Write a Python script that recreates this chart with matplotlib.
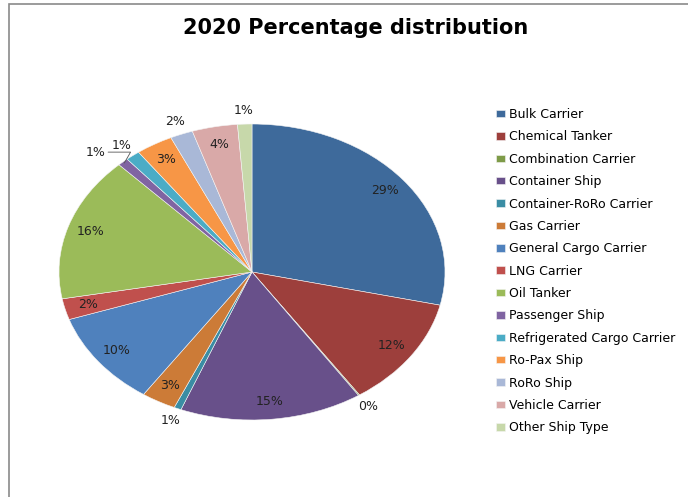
import numpy as np
import matplotlib

matplotlib.use("Agg")
import matplotlib.pyplot as plt
from matplotlib.patches import Rectangle

# ship type shares (%) for 2020, clockwise from 12 o'clock
SHIP_TYPES = [
    "Bulk Carrier", "Chemical Tanker", "Combination Carrier", "Container Ship",
    "Container-RoRo Carrier", "Gas Carrier", "General Cargo Carrier", "LNG Carrier",
    "Oil Tanker", "Passenger Ship", "Refrigerated Cargo Carrier", "Ro-Pax Ship",
    "RoRo Ship", "Vehicle Carrier", "Other Ship Type",
]
SHARES = [28.6, 12.0, 0.1, 15.3, 0.6, 2.9, 10.3, 2.3, 15.8, 0.9, 1.2, 3.1, 1.9, 3.8, 1.2]
COLORS = [
    "#3E6A9B", "#9D3F3C", "#7E9B48", "#68508A", "#3A8DA4", "#CC7B37", "#4F81BD",
    "#C0504D", "#9BBB59", "#8064A2", "#4BACC6", "#F79646", "#A9B8D7", "#D9A9A8",
    "#C7D8AA",
]

W, H = 688, 497
fig = plt.figure(figsize=(W / 100, H / 100), dpi=100)

# chart frame (only top and left edges fall inside the image)
fig.patches.append(Rectangle((8.5 / W, -0.1), 1.2, 1.1 - 4 / H, transform=fig.transFigure,
                             fill=False, edgecolor="#8a8a8a", lw=1.2))

fig.text(356 / W, 1 - 28 / H, "2020 Percentage distribution", ha="center", va="center",
         fontsize=15, fontweight="bold", color="black")

# stretched (elliptical) pie: axes box is wider than tall, aspect left free
cx0, cx1, cy0, cy1 = 59, 445, 124, 420
ax = fig.add_axes([cx0 / W, 1 - cy1 / H, (cx1 - cx0) / W, (cy1 - cy0) / H])
wedges, _ = ax.pie(SHARES, colors=COLORS, startangle=90, counterclock=False,
                   wedgeprops=dict(edgecolor="#f4f4f4", linewidth=0.4))
ax.set_aspect("auto")
ax.set_xlim(-1, 1)
ax.set_ylim(-1, 1)
ax.axis("off")

# percentage labels: inside for the bigger slices, just outside for the small ones
cum = np.cumsum(SHARES) - np.array(SHARES) / 2
for name, val, c in zip(SHIP_TYPES, SHARES, cum):
    theta = np.deg2rad(90 - 360 * c / 100)
    txt = f"{val:.0f}%"
    if val >= 2:
        r = 0.88
    else:
        r = 1.09
    x, y = r * np.cos(theta), r * np.sin(theta)
    if name == "Passenger Ship":
        ex, ey = np.cos(theta), np.sin(theta)
        ax.annotate(txt, xy=(ex * 0.99, ey * 0.99), xytext=(-0.76, 0.81),
                    ha="right", va="center", fontsize=9, color="#222222",
                    annotation_clip=False,
                    arrowprops=dict(arrowstyle="-", color="#555555", lw=0.6,
                                    shrinkA=0, shrinkB=0,
                                    connectionstyle="angle,angleA=0,angleB=60,rad=0"))
        continue
    ax.text(x, y, txt, ha="center", va="center", fontsize=9, color="#222222", clip_on=False)

fig.legend(wedges, SHIP_TYPES, loc="upper left", bbox_to_anchor=(496 / W, 1 - 108 / H),
           frameon=False, fontsize=9, handlelength=0.7, handleheight=0.55,
           handletextpad=0.35, labelspacing=0.75, borderaxespad=0, borderpad=0)

fig.savefig("out.png", dpi=100)
